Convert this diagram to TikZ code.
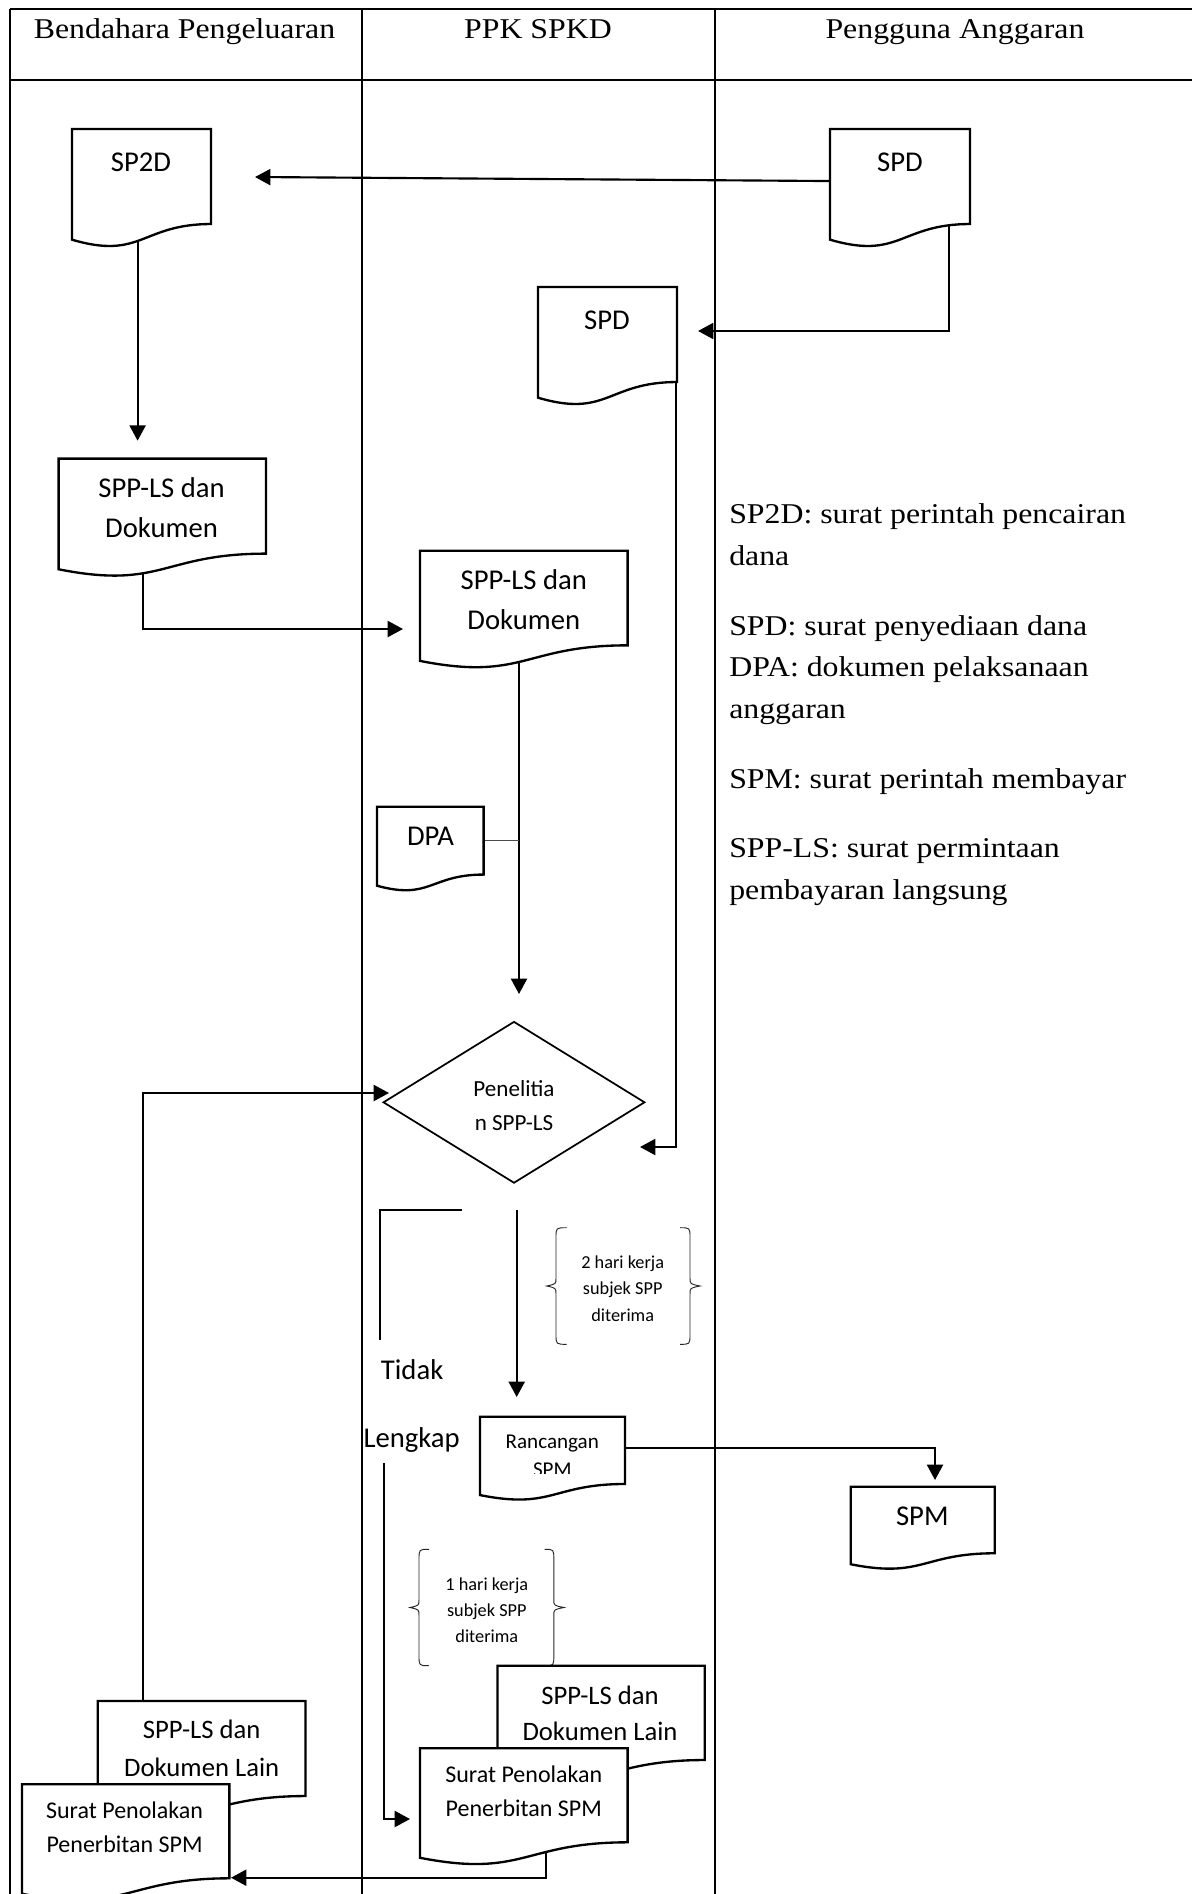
\documentclass[tikz,border=0pt]{standalone}
\usepackage{fontspec}
\setmainfont{Carlito}
\newfontfamily\serifface[FakeStretch=1.11]{Liberation Serif}
\usetikzlibrary{arrows.meta,shapes.geometric}
\pgfdeclarelayer{bg}
\pgfsetlayers{bg,main}
% document shape: name, left, top, width, nominal height
\newcommand\DocShape[5]{%
  \filldraw[docline] (#2,#3) -- ({#2+#4},#3) -- ({#2+#4},{#3+0.802*#5})
    .. controls ({#2+0.5*#4},{#3+0.802*#5}) and ({#2+0.5*#4},{#3+1.1075*#5}) .. (#2,{#3+0.934*#5}) -- cycle;
  \node[docframe, minimum width={#4*0.75pt}, minimum height={#5*0.75pt}] (#1) at ({#2+0.5*#4},{#3+0.5*#5}) {};
}
% curly brace: end x, body x, tip x, top y, mid y, bottom y
\newcommand\CurlyB[6]{%
  \draw[brc] (#1,#4) .. controls (#2,#4) .. (#2,{#4+10}) -- (#2,{#5-8})
    .. controls (#2,{#5-2}) .. (#3,#5) .. controls (#2,{#5+2}) .. (#2,{#5+8})
    -- (#2,{#6-10}) .. controls (#2,#6) .. (#1,#6);
}
\begin{document}
\begin{tikzpicture}[x=0.75pt,y=-0.75pt,
  tbl/.style={line width=1.3pt},
  docline/.style={draw=black, fill=white, line width=1.75pt, line join=miter},
  docframe/.style={rectangle, inner sep=0pt, outer sep=0pt},
  arr/.style={line width=1.6pt, line join=miter, -{Triangle[length=11.5pt,width=12pt]}},
  plain/.style={line width=1.6pt, line join=miter},
  thinline/.style={line width=0.8pt, draw=black!70},
  brc/.style={line width=0.7pt, draw=black!85},
  tA/.style={font=\fontsize{21.5}{26}\selectfont, inner sep=0pt, text height=13.85pt, text depth=0pt},
  tB/.style={font=\fontsize{20}{24}\selectfont, inner sep=0pt, text height=12.9pt, text depth=0pt},
  tC/.style={font=\fontsize{18}{22}\selectfont, inner sep=0pt, text height=11.6pt, text depth=0pt},
  tD/.style={font=\fontsize{17.3}{21}\selectfont, inner sep=0pt, text height=11.1pt, text depth=0pt},
  tE/.style={font=\fontsize{15.8}{19}\selectfont, inner sep=0pt, text height=10.2pt, text depth=0pt},
  tF/.style={font=\fontsize{13.7}{17}\selectfont, inner sep=0pt, text height=8.8pt, text depth=0pt},
  sR/.style={font=\serifface\fontsize{21.5}{31}\selectfont, inner sep=0pt},
]
\useasboundingbox (0,0) rectangle (1192,1894);
\begin{pgfonlayer}{bg}
  \fill[white] (0,0) rectangle (1192,1894);
  % table
  \draw[tbl] (10,9) -- (1192,9);
  \draw[tbl] (10,80) -- (1192,80);
  \draw[tbl] (10,9) -- (10,1894);
  \draw[tbl] (362,9) -- (362,1894);
  \draw[tbl] (715,9) -- (715,1894);
\end{pgfonlayer}

% header
\node[sR, anchor=base] (h1) at (184.5,39) {Bendahara Pengeluaran};
\node[sR, anchor=base] (h2) at (538,39) {PPK SPKD};
\node[sR, anchor=base] (h3) at (955,39) {Pengguna Anggaran};

% legend
\node[sR, anchor=base west] (r1) at (729,523.3) {SP2D: surat perintah pencairan};
\node[sR, anchor=base west] (r2) at (729,565) {dana};
\node[sR, anchor=base west] (r3) at (729,635) {SPD: surat penyediaan dana};
\node[sR, anchor=base west] (r4) at (729,676.7) {DPA: dokumen pelaksanaan};
\node[sR, anchor=base west] (r5) at (729,718.3) {anggaran};
\node[sR, anchor=base west] (r6) at (729,788.3) {SPM: surat perintah membayar};
\node[sR, anchor=base west] (r7) at (729,857.7) {SPP-LS: surat permintaan};
\node[sR, anchor=base west] (r8) at (729,899.3) {pembayaran langsung};

% documents
\DocShape{sp2d}{72}{129}{139}{118.5}
\node[tA] (sp2dT) at (141,162) {SP2D};
\DocShape{spdA}{830}{129}{140}{118.5}
\node[tA] (spdAT) at (900,162) {SPD};
\DocShape{spdB}{538}{287}{139}{118.5}
\node[tA] (spdBT) at (607,320) {SPD};
\DocShape{docA}{58.6}{458.6}{207.4}{118.5}
\node[tA] (docAT1) at (161.5,488.2) {SPP-LS dan};
\node[tA] (docAT2) at (161.5,528.6) {Dokumen};
\DocShape{docB}{420}{550.7}{207.6}{118}
\node[tA] (docBT1) at (523.8,580.4) {SPP-LS dan};
\node[tA] (docBT2) at (523.8,620.4) {Dokumen};
\DocShape{dpa}{377}{806.8}{106.6}{84.5}
\node[tA] (dpaT) at (430.5,836.4) {DPA};

% decision
\node[diamond, draw, line width=1.3pt, inner sep=0pt, minimum width={261.7*0.75pt}, minimum height={161.6*0.75pt}] (dia) at (514,1102.3) {};
\node[tD] (diaT1) at (514,1089) {Penelitia};
\node[tD] (diaT2) at (514,1122.7) {n SPP-LS};

% Tidak Lengkap
\node[tA, anchor=west] (tidak) at (380.7,1370) {Tidak};
\node[tA, anchor=west] (lengkap) at (363.3,1438.3) {Lengkap};

% 2 hari kerja
\CurlyB{566.7}{556}{546.7}{1227.7}{1286}{1344.3}
\CurlyB{680}{690}{700}{1227.7}{1286}{1344.3}
\node[tF] (h2a) at (622.7,1262.3) {2 hari kerja};
\node[tF] (h2b) at (622.7,1289) {subjek SPP};
\node[tF] (h2c) at (622.7,1315.7) {diterima};

% Rancangan SPM
\DocShape{ranc}{480}{1416.7}{145}{83.9}
\begin{scope}
  \clip (470,1405) rectangle (640,1473.3);
  \node[tE] (rancT1) at (552.3,1441.7) {Rancangan};
  \node[tE] (rancT2) at (552.3,1469.7) {SPM};
\end{scope}

% SPM
\DocShape{spm}{850.7}{1486.7}{144}{83}
\node[tA] (spmT) at (922.3,1516.7) {SPM};

% 1 hari kerja
\CurlyB{429}{419}{410}{1549.3}{1607.5}{1665.7}
\CurlyB{544.5}{553.8}{564}{1549.3}{1607.5}{1665.7}
\node[tF] (h1a) at (486.8,1584.3) {1 hari kerja};
\node[tF] (h1b) at (486.8,1611) {subjek SPP};
\node[tF] (h1c) at (486.8,1637) {diterima};

% bottom documents
\DocShape{lainR}{497.5}{1665.7}{207.2}{117.6}
\node[tB] (lainRT1) at (600,1695.7) {SPP-LS dan};
\node[tB] (lainRT2) at (600,1731.7) {Dokumen Lain};
\DocShape{suratR}{420}{1748.3}{207.6}{117.2}
\node[tC] (suratRT1) at (523.8,1775) {Surat Penolakan};
\node[tC] (suratRT2) at (523.8,1808.3) {Penerbitan SPM};

\DocShape{lainL}{97.8}{1701}{207.7}{118.5}
\node[tB] (lainLT1) at (201.7,1730) {SPP-LS dan};
\node[tB] (lainLT2) at (201.7,1767.7) {Dokumen Lain};
\DocShape{suratL}{22}{1784.3}{207.4}{117.2}
\node[tC] (suratLT1) at (124.6,1810.7) {Surat Penolakan};
\node[tC] (suratLT2) at (124.6,1845) {Penerbitan SPM};

% connectors (behind the documents)
\begin{pgfonlayer}{bg}
  \coordinate (t1) at (255,177);
  \draw[arr] ([yshift=5.4pt]spdA.west) -- (t1);

  \coordinate (c2) at (949,331);
  \coordinate (t2) at (698,331);
  \draw[arr] (spdA.center -| c2) -- (c2) -- (t2);

  \coordinate (t3) at (137.6,440.7);
  \draw[arr] (sp2d.center -| t3) -- (t3);

  \coordinate (c4) at (143,629);
  \coordinate (t4) at (403,629);
  \draw[arr] (docA.center -| c4) -- (c4) -- (t4);

  \coordinate (c5) at (676,1147);
  \coordinate (t5) at (640,1147);
  \draw[arr] (spdB.center -| c5) -- (c5) -- (t5);

  \coordinate (t6) at (519,994);
  \draw[arr] (docB.center -| t6) -- (t6);

  \coordinate (j7) at (519,840.7);
  \draw[thinline] (dpa.east |- j7) -- (j7);

  \coordinate (c8) at (143,1093);
  \coordinate (t8) at (389,1093);
  \draw[arr] (lainL.north -| c8) -- (c8) -- (t8);

  \coordinate (c9a) at (461.7,1210);
  \coordinate (c9b) at (380,1210);
  \coordinate (c9c) at (380,1340);
  \draw[plain] (c9a) -- (c9b) -- (c9c);

  \coordinate (c10) at (516.7,1210);
  \coordinate (t10) at (516.7,1397);
  \draw[arr] (c10) -- (t10);

  \coordinate (c11a) at (384,1463);
  \coordinate (c11b) at (384,1819);
  \coordinate (t11) at (410,1819);
  \draw[arr] (c11a) -- (c11b) -- (t11);

  \coordinate (c12) at (935,1447.7);
  \coordinate (t12) at (935,1480);
  \draw[arr] (ranc.east |- c12) -- (c12) -- (t12);

  \coordinate (c13) at (546,1877.7);
  \coordinate (t13) at (231,1877.7);
  \draw[arr] (suratR.center -| c13) -- (c13) -- (t13);
\end{pgfonlayer}
\end{tikzpicture}
\end{document}
